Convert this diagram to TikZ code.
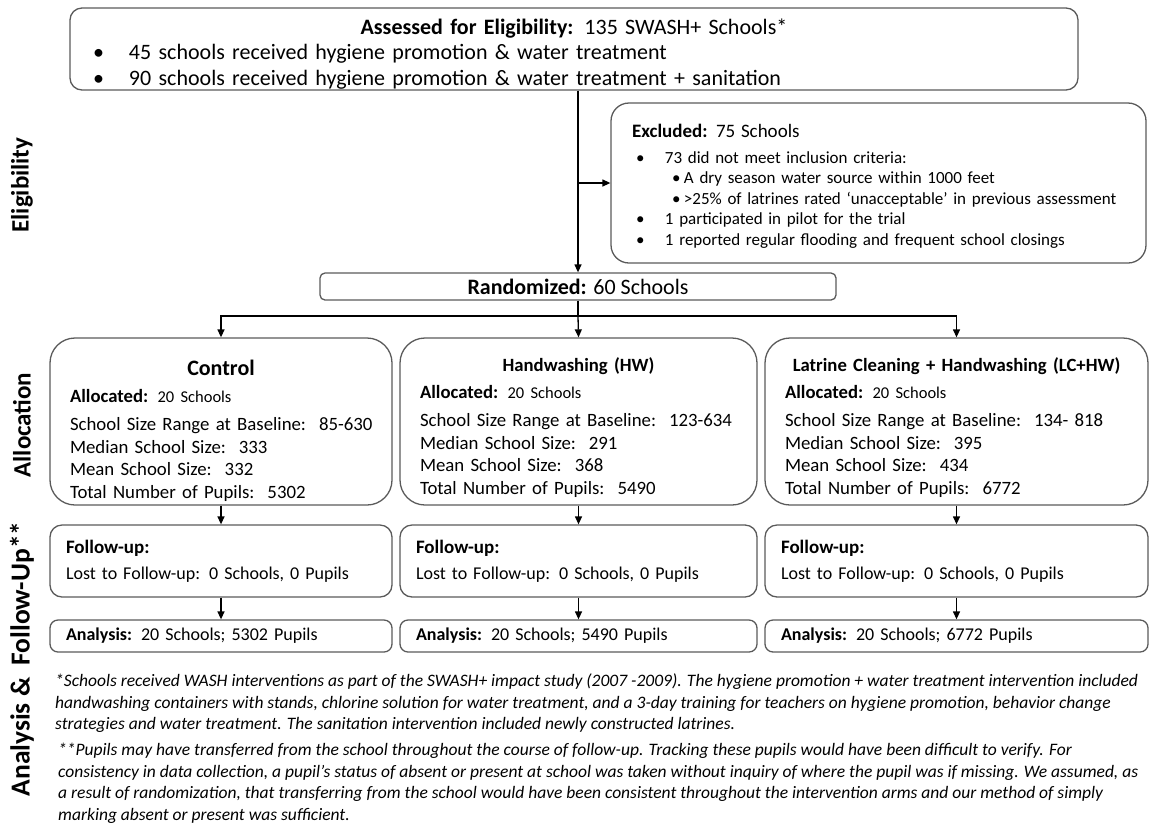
\documentclass[tikz,border=0pt]{standalone}
\usepackage{fontspec}
\setmainfont{Carlito}
\usepackage{xcolor}
\usetikzlibrary{arrows.meta,positioning}
\definecolor{edgegray}{HTML}{5A5A5A}
\newcommand{\setfs}[2]{\fontsize{#1}{#2}\selectfont}
\newcommand{\bul}[1]{\makebox[#1][l]{\textbullet}}
\newcommand{\statline}[2]{\mbox{#1\hspace{13pt}#2}}

\begin{document}
\begin{tikzpicture}[x=1pt, y=-1pt,
    box/.style={draw=edgegray, line width=1.3pt, inner sep=0pt, align=left},
    link/.style={line width=1.3pt},
    arr/.style={link, -{Triangle[length=8pt,width=7pt]}},
    phase/.style={rotate=90, inner sep=0pt, font=\setfs{25}{30}\bfseries},
    note/.style={anchor=north west, inner sep=0pt, align=left, font=\setfs{17.5}{21.5}\itshape}
]
    \useasboundingbox (0,0) rectangle (1150,823);

    % eligibility
    \node[box, rounded corners=12pt, minimum width=1008pt, minimum height=82pt, text width=970pt, font=\setfs{22}{25.5}] (assess) at (574,49)
        {\makebox[\linewidth]{\rule{0pt}{25pt}\textbf{Assessed for Eligibility:} 135 SWASH+ Schools*}\\
         \hspace*{4pt}\bul{36pt}45 schools received hygiene promotion \& water treatment\\
         \hspace*{4pt}\bul{36pt}90 schools received hygiene promotion \& water treatment + sanitation};
    \node[box, rounded corners=18pt, minimum width=535pt, minimum height=160pt, text width=493pt, font=\setfs{17}{20.5}] (excl) at (878.5,183)
        {{\setfs{19}{24}\rule{0pt}{20pt}\textbf{Excluded:} 75 Schools}\\[5pt]
         \hspace*{4pt}\bul{29pt}73 did not meet inclusion criteria:\\
         \hspace*{40pt}\bul{12pt}A dry season water source within 1000 feet\\
         \hspace*{40pt}\bul{12pt}>25\% of latrines rated ‘unacceptable’ in previous assessment\\
         \hspace*{4pt}\bul{29pt}1 participated in pilot for the trial\\
         \hspace*{4pt}\bul{29pt}1 reported regular flooding and frequent school closings};
    \node[box, rounded corners=5pt, minimum width=516pt, minimum height=27pt, align=center, font=\setfs{22}{24}] (rand) at (578,286.5)
        {\textbf{Randomized:} 60 Schools};

    % allocation
    \node[box, rounded corners=25pt, minimum width=342pt, minimum height=167pt, text width=302pt, font=\setfs{18.8}{22.5}] (ctrl) at (221,421.5)
        {\makebox[\linewidth]{\rule{0pt}{34pt}\setfs{22}{26}\textbf{Control}}\\[4.5pt]
         {\setfs{18.7}{22}\textbf{Allocated:} \setfs{16.5}{22}20 Schools}\\[5.5pt]
         \statline{School Size Range at Baseline:}{85-630}\\
         \statline{Median School Size:}{333}\\
         \statline{Mean School Size:}{332}\\
         \statline{Total Number of Pupils:}{5302}};
    \node[box, rounded corners=25pt, minimum width=357pt, minimum height=167pt, text width=317pt, font=\setfs{18.8}{22.5}] (hw) at (578.5,421.5)
        {\makebox[\linewidth]{\rule{0pt}{26.5pt}\setfs{18.7}{22}\textbf{Handwashing (HW)}}\\[4.5pt]
         {\setfs{18.7}{22}\textbf{Allocated:} \setfs{16.5}{22}20 Schools}\\[5.5pt]
         \statline{School Size Range at Baseline:}{123-634}\\
         \statline{Median School Size:}{291}\\
         \statline{Mean School Size:}{368}\\
         \statline{Total Number of Pupils:}{5490}};
    \node[box, rounded corners=25pt, minimum width=383pt, minimum height=167pt, text width=343pt, font=\setfs{18.8}{22.5}] (lc) at (956.5,421.5)
        {\makebox[\linewidth]{\rule{0pt}{26.5pt}\setfs{18.7}{22}\textbf{Latrine Cleaning + Handwashing (LC+HW)}}\\[4.5pt]
         {\setfs{18.7}{22}\textbf{Allocated:} \setfs{16.5}{22}20 Schools}\\[5.5pt]
         \statline{School Size Range at Baseline:}{134- 818}\\
         \statline{Median School Size:}{395}\\
         \statline{Mean School Size:}{434}\\
         \statline{Total Number of Pupils:}{6772}};

    % follow-up
    \node[box, rounded corners=12pt, minimum width=342pt, minimum height=72pt, text width=310pt, font=\setfs{18}{26}] (ctrlfu) at (221,561)
        {{\setfs{19}{26}\textbf{Follow-up:}}\\Lost to Follow-up: 0 Schools, 0 Pupils};
    \node[box, rounded corners=12pt, minimum width=357pt, minimum height=72pt, text width=325pt, font=\setfs{18}{26}] (hwfu) at (578.5,561)
        {{\setfs{19}{26}\textbf{Follow-up:}}\\Lost to Follow-up: 0 Schools, 0 Pupils};
    \node[box, rounded corners=12pt, minimum width=383pt, minimum height=72pt, text width=351pt, font=\setfs{18}{26}] (lcfu) at (956.5,561)
        {{\setfs{19}{26}\textbf{Follow-up:}}\\Lost to Follow-up: 0 Schools, 0 Pupils};

    % analysis
    \node[box, rounded corners=8pt, minimum width=342pt, minimum height=32pt, text width=310pt, font=\setfs{18}{22}] (ctrlan) at (221,636)
        {\textbf{Analysis:} 20 Schools; 5302 Pupils};
    \node[box, rounded corners=8pt, minimum width=357pt, minimum height=32pt, text width=325pt, font=\setfs{18}{22}] (hwan) at (578.5,636)
        {\textbf{Analysis:} 20 Schools; 5490 Pupils};
    \node[box, rounded corners=8pt, minimum width=383pt, minimum height=32pt, text width=351pt, font=\setfs{18}{22}] (lcan) at (956.5,636)
        {\textbf{Analysis:} 20 Schools; 6772 Pupils};

    % phase labels
    \node[phase] (eligible) at (22,185) {Eligibility};
    \node[phase] (alloc) at (22,425) {Allocation};
    \node[phase, font=\setfs{27.5}{30}\bfseries] (analyse) at (22,659) {Analysis \&\hspace{12pt}Follow-Up**};

    % footnotes
    \node[note] (note1) at (55,674)
        {*Schools received WASH interventions as part of the SWASH+ impact study (2007 -2009). The hygiene promotion + water treatment intervention included\\
         handwashing containers with stands, chlorine solution for water treatment, and a 3-day training for teachers on hygiene promotion, behavior change\\
         strategies and water treatment. The sanitation intervention included newly constructed latrines.};
    \node[note] (note2) at (58,743)
        {**Pupils may have transferred from the school throughout the course of follow-up. Tracking these pupils would have been difficult to verify. For\\
         consistency in data collection, a pupil’s status of absent or present at school was taken without inquiry of where the pupil was if missing. We assumed, as\\
         a result of randomization, that transferring from the school would have been consistent throughout the intervention arms and our method of simply\\
         marking absent or present was sufficient.};

    % connectors
    \draw[arr] (rand.north |- assess.south) -- (rand.north);
    \draw[arr] (rand.north |- excl.west) -- (excl.west);
    \coordinate (fork) at (578,316);
    \draw[link] (rand.south) -- (fork);
    \draw[arr] (fork) -| (ctrl.north);
    \draw[arr] (fork) -- (hw.north);
    \draw[arr] (fork) -| (lc.north);
    \draw[arr] (ctrl) -- (ctrlfu);
    \draw[arr] (hw) -- (hwfu);
    \draw[arr] (lc) -- (lcfu);
    \draw[arr] (ctrlfu) -- (ctrlan);
    \draw[arr] (hwfu) -- (hwan);
    \draw[arr] (lcfu) -- (lcan);
\end{tikzpicture}
\end{document}
